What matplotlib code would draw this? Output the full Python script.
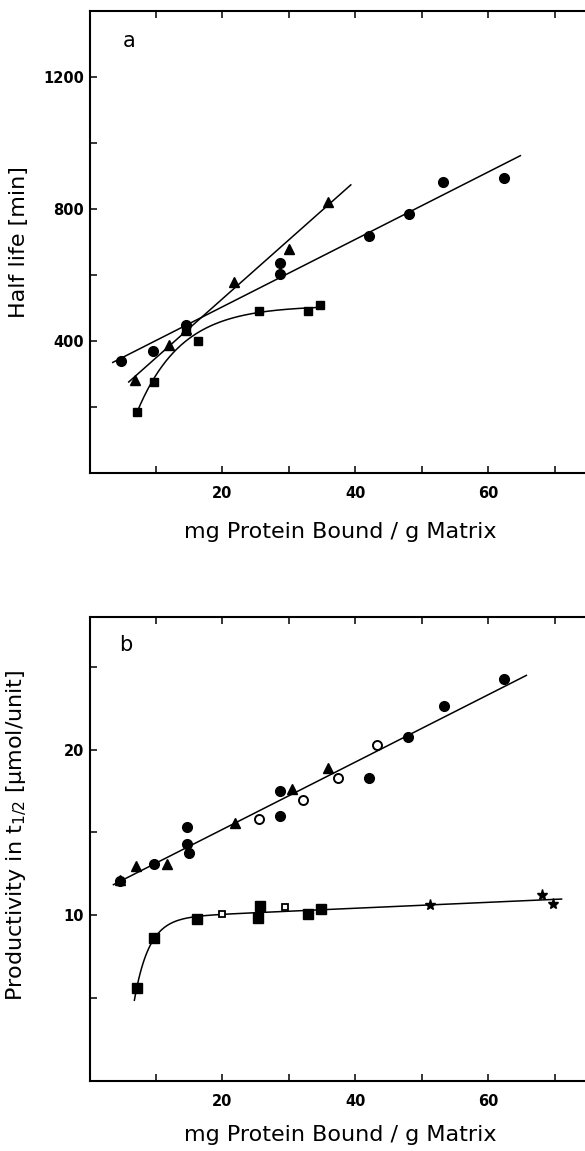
import numpy as np
import matplotlib
matplotlib.use("Agg")
import matplotlib.pyplot as plt
from matplotlib.ticker import MultipleLocator, NullFormatter, FuncFormatter

# ── Data ─────────────────────────────────────────────────────────────────────

# Panel a: half life [min] vs mg protein bound / g matrix
A_CIRC_X = [4.7, 9.6, 14.5, 28.6, 28.6, 42.0, 48.0, 53.2, 62.3]
A_CIRC_Y = [339, 369, 448, 636, 603, 718, 786, 881, 893]
A_TRI_X = [6.9, 11.9, 14.5, 21.7, 30.0, 35.8]
A_TRI_Y = [281, 389, 435, 578, 678, 821]
A_SQ_X = [7.1, 9.7, 14.5, 16.3, 25.5, 32.8, 34.7]
A_SQ_Y = [186, 275, 431, 400, 492, 491, 508]
A_CIRC_LINE = (3.5, 64.8)
A_TRI_LINE = (5.9, 39.3)

# Panel b: productivity in t1/2 [umol/unit]
B_CIRC_X = [4.6, 9.7, 14.6, 14.6, 15.0, 28.7, 28.6, 42.1, 47.9, 53.3, 62.3]
B_CIRC_Y = [12.07, 13.07, 15.32, 14.28, 13.75, 17.51, 15.98, 18.31, 20.76, 22.61, 24.28]
B_TRI_X = [4.6, 7.0, 11.7, 21.9, 30.4, 35.8]
B_TRI_Y = [12.1, 12.99, 13.07, 15.54, 17.65, 18.86]
B_OPEN_X = [25.5, 32.1, 37.3, 43.2]
B_OPEN_Y = [15.84, 16.93, 18.31, 20.30]
B_UPPER_LINE = (3.6, 65.7)

B_SQ_X = [7.1, 9.7, 16.1, 25.3, 25.7, 32.8, 34.8]
B_SQ_Y = [5.6, 8.61, 9.78, 9.82, 10.56, 10.06, 10.36]
B_OSQ_X = [20.0, 29.4]
B_OSQ_Y = [10.06, 10.52]
B_STAR_X = [51.2, 68.1, 69.7]
B_STAR_Y = [10.62, 11.22, 10.66]
B_LOWER_CURVE = (6.75, 71.0)

XLABEL = "mg Protein Bound / g Matrix"

OUTPUT_PATH = "out.png"


def saturation_fit(x, y, linear=False):
    """Least squares for y = A (+ m x) - B exp(-x/k), grid search on k."""
    x = np.asarray(x, float)
    y = np.asarray(y, float)
    best = None
    for k in np.linspace(0.5, 20, 400):
        cols = [np.ones_like(x), -np.exp(-x / k)]
        if linear:
            cols.append(x)
        M = np.column_stack(cols)
        coef, *_ = np.linalg.lstsq(M, y, rcond=None)
        err = np.sum((M @ coef - y) ** 2)
        if best is None or err < best[0]:
            best = (err, k, coef)
    _, k, coef = best

    def f(t):
        out = coef[0] - coef[1] * np.exp(-t / k)
        if linear:
            out = out + coef[2] * t
        return out
    return f


def line(ax, x, y, span):
    p = np.polyfit(x, y, 1)
    t = np.array(span)
    ax.plot(t, np.polyval(p, t), color="black", lw=1.1, zorder=2)


no_zero = FuncFormatter(lambda v, pos: "" if abs(v) < 1e-9 else f"{v:g}")


def style_axes(ax):
    for s in ax.spines.values():
        s.set_linewidth(1.5)
    ax.xaxis.set_major_locator(MultipleLocator(20))
    ax.xaxis.set_minor_locator(MultipleLocator(10))
    ax.xaxis.set_minor_formatter(NullFormatter())
    ax.xaxis.set_major_formatter(no_zero)
    ax.yaxis.set_major_formatter(no_zero)
    ax.tick_params(which="both", direction="in", length=5, width=1.1,
                   top=True, right=True, labelsize=10.5)
    ax.tick_params(axis="x", pad=9)
    ax.tick_params(axis="y", pad=4)
    for lab in ax.get_xticklabels() + ax.get_yticklabels():
        lab.set_fontweight("bold")
    ax.set_xlim(0, 75.5)
    ax.set_xlabel(XLABEL, fontsize=16)


def main():
    plt.rcParams["font.family"] = ["DejaVu Sans"]
    plt.rcParams["font.weight"] = "normal"
    fig = plt.figure(figsize=(5.85, 11.51), dpi=100)
    W, H = 585, 1151
    ax_a = fig.add_axes([89.5 / W, 1 - 473 / H, 502 / W, 462 / H])
    ax_b = fig.add_axes([89.5 / W, 1 - 1081 / H, 502 / W, 464 / H])

    mk = dict(color="black", linestyle="none", zorder=3)

    # ── Panel a ────────────────────────────────────────────────────────────
    line(ax_a, A_CIRC_X, A_CIRC_Y, A_CIRC_LINE)
    line(ax_a, A_TRI_X, A_TRI_Y, A_TRI_LINE)
    f = saturation_fit(A_SQ_X, A_SQ_Y)
    t = np.linspace(min(A_SQ_X), max(A_SQ_X), 200)
    ax_a.plot(t, f(t), color="black", lw=1.1, zorder=2)

    ax_a.plot(A_CIRC_X, A_CIRC_Y, marker="o", ms=7, **mk)
    ax_a.plot(A_TRI_X, A_TRI_Y, marker="^", ms=7, **mk)
    ax_a.plot(A_SQ_X, A_SQ_Y, marker="s", ms=6, **mk)

    ax_a.set_ylim(0, 1400)
    ax_a.yaxis.set_major_locator(MultipleLocator(400))
    ax_a.yaxis.set_minor_locator(MultipleLocator(200))
    ax_a.set_ylabel("Half life [min]", fontsize=16)
    ax_a.yaxis.set_label_coords(-0.12, 0.5)
    ax_a.xaxis.set_label_coords(0.525, -0.105)
    ax_a.text(0.079, 0.934, "a", transform=ax_a.transAxes, fontsize=15,
              ha="center", va="center")
    style_axes(ax_a)

    # ── Panel b ────────────────────────────────────────────────────────────
    ux = B_CIRC_X + B_TRI_X + B_OPEN_X
    uy = B_CIRC_Y + B_TRI_Y + B_OPEN_Y
    line(ax_b, ux, uy, B_UPPER_LINE)
    lx = B_SQ_X + B_OSQ_X + B_STAR_X
    ly = B_SQ_Y + B_OSQ_Y + B_STAR_Y
    g = saturation_fit(lx, ly, linear=True)
    t = np.linspace(*B_LOWER_CURVE, 300)
    ax_b.plot(t, g(t), color="black", lw=1.1, zorder=2)

    ax_b.plot(B_CIRC_X, B_CIRC_Y, marker="o", ms=7, **mk)
    ax_b.plot(B_TRI_X, B_TRI_Y, marker="^", ms=7, **mk)
    ax_b.plot(B_OPEN_X, B_OPEN_Y, marker="o", ms=6.5, mfc="white",
              mew=1.4, **mk)
    ax_b.plot(B_SQ_X, B_SQ_Y, marker="s", ms=6.5, **mk)
    ax_b.plot(B_OSQ_X, B_OSQ_Y, marker="s", ms=5, mfc="white", mew=1.3, **mk)
    ax_b.plot(B_STAR_X, B_STAR_Y, marker="*", ms=8, **mk)

    ax_b.set_ylim(0, 28)
    ax_b.yaxis.set_major_locator(MultipleLocator(10))
    ax_b.yaxis.set_minor_locator(MultipleLocator(5))
    ax_b.set_ylabel(r"Productivity in $\mathrm{t}_{1/2}$ [µmol/unit]",
                    fontsize=16)
    ax_b.yaxis.set_label_coords(-0.12, 0.53)
    ax_b.xaxis.set_label_coords(0.525, -0.095)
    ax_b.text(0.073, 0.94, "b", transform=ax_b.transAxes, fontsize=15,
              ha="center", va="center")
    style_axes(ax_b)

    fig.savefig(OUTPUT_PATH, dpi=100)
    print(f"Saved to {OUTPUT_PATH}")


if __name__ == "__main__":
    main()
